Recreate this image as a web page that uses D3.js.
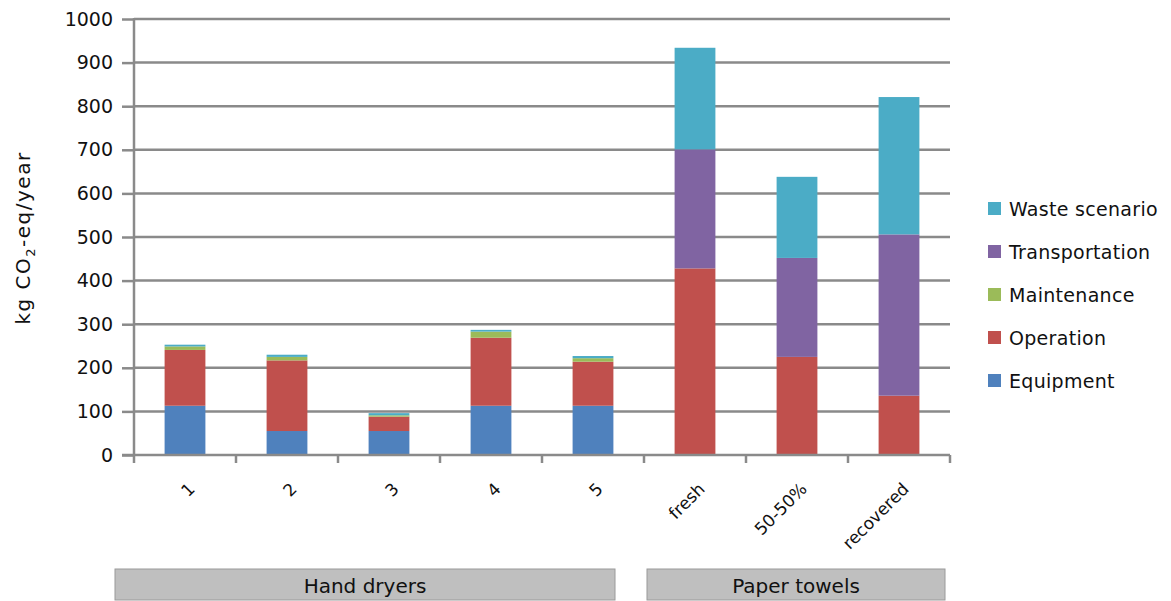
<!DOCTYPE html>
<html><head><meta charset="utf-8">
<script src="https://cdn.jsdelivr.net/npm/d3@7/dist/d3.min.js"></script>
<style>body{margin:0;background:#fff;}svg{display:block;font-family:"DejaVu Sans",sans-serif;}</style>
</head><body><svg id="c" width="1171" height="601"></svg>
<script>
const categories = ["1","2","3","4","5","fresh","50-50%","recovered"];
const groups = [{name:"Hand dryers", from:0, to:4},{name:"Paper towels", from:5, to:7}];
const seriesNames = ["Equipment","Operation","Maintenance","Transportation","Waste scenario"];
const equipment = [113,55,55,113,113,0,0,0];
const operation = [128,162,33,156,101,428,225,136];
const maintenance = [8,8,3,14,8,0,0,0];
const transportation = [0,0,0,0,0,273,227,370];
const waste = [4,5,5,4,5,233,186,315];
const yTicks = [0,100,200,300,400,500,600,700,800,900,1000];
const colors = ["#4F81BD","#C0504D","#9BBB59","#8064A2","#4BACC6"];

const seriesVals = [equipment,operation,maintenance,transportation,waste];
const data = categories.map((c,i)=>{const o={cat:c};seriesNames.forEach((s,k)=>o[s]=seriesVals[k][i]);return o;});
const stack = d3.stack().keys(seriesNames)(data);

const FONT = "DejaVu Sans";
const svg = d3.select("#c");
const L=134, R=950, T=19, B=455;
const x = d3.scaleBand().domain(categories).range([L,R]).paddingInner(0.6).paddingOuter(0.3);
const xb = d3.scaleBand().domain(categories).range([L,R]);
const y = d3.scaleLinear().domain([0,1000]).range([B,T]);
const grid="#8a8a8a";

// gridlines
svg.append("g").selectAll("line").data(yTicks.filter(t=>t>0)).join("line")
 .attr("x1",L).attr("x2",R).attr("y1",d=>y(d)).attr("y2",d=>y(d))
 .attr("stroke",grid).attr("stroke-width",2.5);

// bars
svg.append("g").selectAll("g").data(stack).join("g").attr("fill",(d,i)=>colors[i])
 .selectAll("rect").data(d=>d).join("rect")
 .attr("x",d=>x(d.data.cat)).attr("width",x.bandwidth())
 .attr("y",d=>y(d[1])).attr("height",d=>Math.max(0,y(d[0])-y(d[1])));

// y axis
const ya = svg.append("g").attr("transform",`translate(${L},0)`)
 .call(d3.axisLeft(y).tickValues(yTicks).tickFormat(d3.format("d")).tickSize(12).tickPadding(9));
ya.select(".domain").attr("stroke",grid).attr("stroke-width",2.5).attr("d",`M0,${T-1}V${B}`);
ya.selectAll(".tick line").attr("stroke",grid).attr("stroke-width",2.5);
ya.selectAll("text").attr("font-size",19).attr("fill","#111").attr("font-family",FONT);

// x axis
const xa = svg.append("g").attr("transform",`translate(0,${B})`)
 .call(d3.axisBottom(xb).tickSize(0).tickFormat(""));
xa.select(".domain").attr("stroke",grid).attr("stroke-width",2.5).attr("d",`M${L-12},0H${R}`);
svg.append("g").selectAll("line").data(d3.range(categories.length+1)).join("line")
 .attr("x1",i=>L+i*xb.step()).attr("x2",i=>L+i*xb.step()).attr("y1",B).attr("y2",B+8)
 .attr("stroke",grid).attr("stroke-width",2.5);

// x labels rotated
svg.append("g").selectAll("text").data(categories).join("text")
 .attr("transform",d=>`translate(${xb(d)+xb.bandwidth()/2+11},${B+35}) rotate(-45)`)
 .attr("text-anchor","end").attr("font-size",17).attr("fill","#111").text(d=>d);

// y title
svg.append("text").attr("transform","translate(30,238) rotate(-90)").attr("text-anchor","middle")
 .attr("font-size",20).attr("letter-spacing",1.5).attr("fill","#111")
 .html('kg CO<tspan font-size="13" dy="5">2</tspan><tspan dy="-5">-eq/year</tspan>');

// group boxes
const boxPad = [[-19,-29],[3,-5]];
groups.forEach((g,gi)=>{
  const x0 = xb(categories[g.from]) + boxPad[gi][0];
  const x1 = xb(categories[g.to]) + xb.step() + boxPad[gi][1];
  svg.append("rect").attr("x",x0).attr("y",569).attr("width",x1-x0).attr("height",31)
   .attr("fill","#BFBFBF").attr("stroke","#9a9a9a").attr("stroke-width",1);
  svg.append("text").attr("x",(x0+x1)/2).attr("y",593).attr("text-anchor","middle")
   .attr("font-size",20).attr("fill","#111").text(g.name);
});

// legend
const legOrder = seriesNames.map((s,i)=>({s,c:colors[i]})).reverse();
const lg = svg.append("g").selectAll("g").data(legOrder).join("g")
 .attr("transform",(d,i)=>`translate(988,${209+i*43})`);
lg.append("rect").attr("x",0).attr("y",-7).attr("width",13).attr("height",13).attr("fill",d=>d.c);
lg.append("text").attr("x",21).attr("y",7).attr("font-size",19).attr("letter-spacing",0.3).attr("fill","#111").text(d=>d.s);
</script></body></html>
